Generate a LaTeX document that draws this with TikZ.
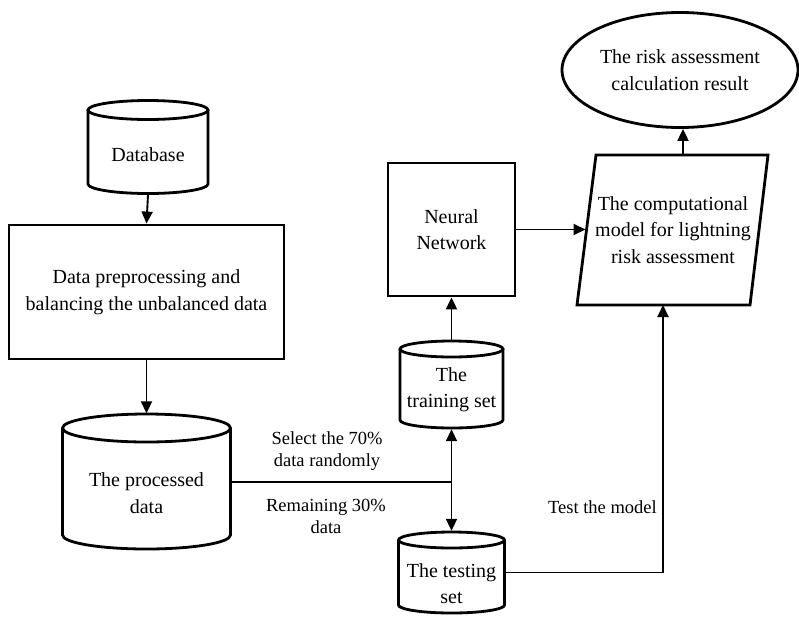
\documentclass[tikz,border=0pt]{standalone}
\usepackage{fontspec}
\setmainfont{Liberation Serif}
\usetikzlibrary{arrows.meta,shapes.geometric}
\tikzset{
  shapeline/.style={line width=2.8pt, draw=black, fill=white},
  boxnode/.style={draw=black, line width=2.8pt, fill=white, inner sep=0pt, align=center,
    font=\fontsize{20}{26.5}\selectfont},
  txt/.style={inner sep=0pt, align=center, font=\fontsize{20}{26.5}\selectfont},
  lbl/.style={inner sep=0pt, align=center, font=\fontsize{18.5}{22.5}\selectfont},
  conn/.style={line width=1.9pt, -{Triangle[length=12pt,width=11pt]}},
  plain/.style={line width=1.9pt},
}
% cylinder outline: cx, top-ellipse y, bottom-ellipse y, half width, y radius
\newcommand\drawcyl[5]{%
  \path[fill=white] ({#1-#4},{-#2}) -- ({#1-#4},{-#3}) arc[start angle=180,end angle=360,x radius=#4,y radius=#5] -- ({#1+#4},{-#2}) -- cycle;
  \draw[line width=2.8pt] ({#1-#4},{-#2}) -- ({#1-#4},{-#3}) arc[start angle=180,end angle=360,x radius=#4,y radius=#5] -- ({#1+#4},{-#2});
  \draw[shapeline] (#1,{-#2}) ellipse[x radius=#4, y radius=#5];}
\begin{document}
\begin{tikzpicture}[x=1pt,y=1pt]
\useasboundingbox (0,0) rectangle (799,-616);

% Database
\drawcyl{148}{110}{184}{60}{9.5}
\node[inner sep=0pt, minimum width=120pt, minimum height=95pt] (db) at (148,-147) {};
\node[txt] (dbt) at (148,-155) {Database};

% preprocessing
\node[boxnode, minimum width=275pt, minimum height=134pt] (prep) at (146.5,-292)
  {Data preprocessing and\\balancing the unbalanced data};

% processed data
\drawcyl{146.5}{428}{535}{84}{14}
\node[inner sep=0pt, minimum width=168pt, minimum height=137pt] (pd) at (146.5,-482) {};
\node[txt] (pdt) at (146.5,-493) {The processed\\data};

% training set
\drawcyl{451.5}{349}{420}{51.5}{8}
\node[inner sep=0pt, minimum width=103pt, minimum height=89pt] (tr) at (451.5,-384.5) {};
\node[txt] (trt) at (451.5,-389.5) {The\\training set};

% testing set
\drawcyl{451.5}{540}{605}{53}{8}
\node[inner sep=0pt, minimum width=106pt, minimum height=83pt] (ts) at (451.5,-572.5) {};
\node[txt] (tst) at (451.5,-583.5) {The testing\\set};

% neural network
\node[boxnode, minimum width=127pt, minimum height=133pt] (nn) at (451.5,-229.5)
  {Neural\\Network};

% parallelogram model
\draw[shapeline] (596,-155) -- (768,-155) -- (750,-305) -- (577,-305) -- cycle;
\node[txt] (model) at (673,-230) {The computational\\model for lightning\\risk assessment};
\coordinate (mT) at (683,-155);
\coordinate (mB) at (663,-305);
\coordinate (mL) at (585.5,-229.5);

% result ellipse
\node[ellipse, draw=black, line width=2.8pt, fill=white, inner sep=0pt,
  minimum width=236pt, minimum height=115pt, align=center,
  font=\fontsize{20}{26.5}\selectfont] (res) at (680,-70)
  {The risk assessment\\calculation result};

% connectors
\draw[conn] (db.south) -- (prep.north);
\draw[conn] (prep.south) -- (pd.north);
\coordinate (j) at (tr.south |- pd.east);
\draw[plain] (pd.east) -- (j);
\draw[conn] (j) -- (tr.south);
\draw[conn] (j) -- (ts.north);
\draw[conn] (tr.north) -- (nn.south);
\draw[conn] (nn.east) -- (mL);
\draw[conn] (mT) -- (mT |- res.south);
\draw[conn] (ts.east) -| (mB);

% labels
\node[lbl] (l1) at (327,-451) {Select the 70\%\\data randomly};
\node[lbl] (l2) at (326,-516.5) {Remaining 30\%\\data};
\node[lbl, anchor=east] (l3) at (657,-507) {Test the model};
\end{tikzpicture}
\end{document}
